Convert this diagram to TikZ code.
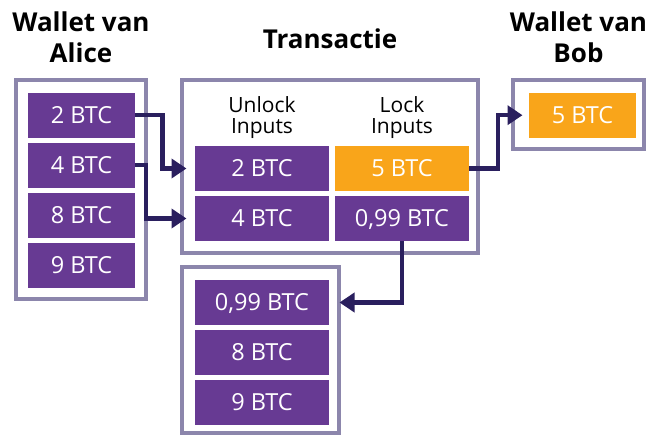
\documentclass[tikz,border=0pt]{standalone}
\usepackage{fontspec}
\setmainfont{Open Sans}
\usetikzlibrary{arrows.meta}
\definecolor{boxpurple}{HTML}{673A93}
\definecolor{boxorange}{HTML}{F9A51A}
\definecolor{framecol}{HTML}{8C86AC}
\definecolor{arrowcol}{HTML}{2A1F5E}
\begin{document}
\begin{tikzpicture}[x=1pt,y=-1pt,
  frame/.style={draw=framecol,line width=4pt,inner sep=0pt},
  coin/.style={fill=boxpurple,text=white,minimum width=107pt,minimum height=45pt,inner sep=0pt,
    font=\fontsize{23.5}{23.5}\selectfont,text height=16.6pt,text depth=0pt},
  widecoin/.style={coin,minimum width=134pt},
  lockcoin/.style={widecoin,fill=boxorange},
  title/.style={font=\fontsize{26}{31.6}\selectfont\bfseries,align=center,inner sep=0pt},
  colhead/.style={font=\fontsize{21}{21}\selectfont,align=center,inner sep=0pt},
  arr/.style={draw=arrowcol,line width=4.2pt,-{Triangle[length=15pt,width=19pt]}}]
\useasboundingbox (0,0) rectangle (662,436);

% titles
\node[title] (tA) at (81,37.3) {Wallet van\\Alice};
\node[title] (tT) at (330,39) {Transactie};
\node[title] (tB) at (578.5,37.3) {Wallet van\\Bob};

% frames
\node[frame,minimum width=130pt,minimum height=218.4pt] (fA) at (81,189.5) {};
\node[frame,minimum width=296pt,minimum height=172.7pt] (fT) at (330,166.65) {};
\node[frame,minimum width=130.7pt,minimum height=68.7pt] (fB) at (578.35,114.65) {};
\node[frame,minimum width=156.7pt,minimum height=166pt] (fC) at (260.35,350) {};

% Alice wallet
\node[coin] (a2) at (81.5,115.2) {2 BTC};
\node[coin] (a4) at (81.5,165.2) {4 BTC};
\node[coin] (a8) at (81.5,215.2) {8 BTC};
\node[coin] (a9) at (81.5,265.2) {9 BTC};

% transaction
\node[colhead] (hU) at (262,117.5) {Unlock\\Inputs};
\node[colhead] (hL) at (402,117.5) {Lock\\Inputs};
\node[widecoin] (u2) at (262,168.5) {2 BTC};
\node[widecoin] (u4) at (262,218.5) {4 BTC};
\node[lockcoin] (l5) at (402,168.5) {5 BTC};
\node[widecoin] (l099) at (402,218.5) {0,99 BTC};

% Bob wallet
\node[coin,fill=boxorange] (b5) at (582.5,115.2) {5 BTC};

% Alice change wallet
\node[widecoin] (c099) at (262,302.5) {0,99 BTC};
\node[widecoin] (c8) at (262,352.5) {8 BTC};
\node[widecoin] (c9) at (262,402.5) {9 BTC};

% connectors
\draw[arr] (a2.east) -- ++(27.3,0) |- ([xshift=-8.3pt]u2.west);
\draw[arr] (a4.east) -- ++(10.7,0) |- ([xshift=-8.3pt]u4.west);
\draw[arr] (l5.east) -- ++(28.7,0) |- ([xshift=-6.3pt]b5.west);
\draw[arr] (l099.south) |- ([xshift=10.3pt]c099.east);
\end{tikzpicture}
\end{document}
